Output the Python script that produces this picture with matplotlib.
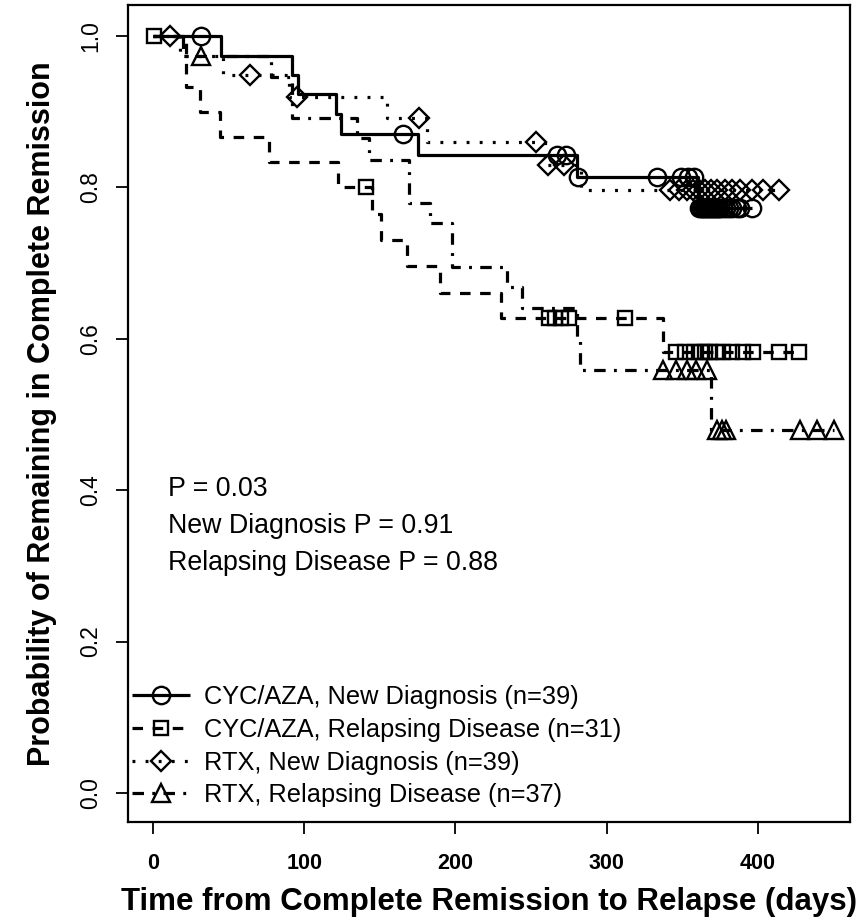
import matplotlib
matplotlib.use('Agg')
import matplotlib.pyplot as plt
import numpy as np
from matplotlib.lines import Line2D

plt.rcParams['font.family'] = ['Liberation Sans', 'DejaVu Sans']

# ---------------- data ----------------
group_labels = [
    "CYC/AZA, New Diagnosis (n=39)",
    "CYC/AZA, Relapsing Disease (n=31)",
    "RTX, New Diagnosis (n=39)",
    "RTX, Relapsing Disease (n=37)",
]

# CYC/AZA, New Diagnosis (solid, circles)
cyc_new_events = [45, 92, 96, 121, 124, 175, 280, 360]
cyc_new_surv = [0.974, 0.949, 0.923, 0.897, 0.871, 0.843, 0.814, 0.773]
cyc_new_censor = [32, 165, 267, 273, 281, 333, 349, 354, 358,
                  361, 362, 363, 364, 365, 366, 367, 368, 369, 370, 371, 372,
                  373, 374, 375, 377, 379, 381, 383, 386, 388, 396]

# CYC/AZA, Relapsing Disease (dashed, squares)
cyc_rel_events = [22, 31, 44, 77, 122, 145, 151, 168, 190, 230, 337]
cyc_rel_surv = [0.933, 0.900, 0.867, 0.833, 0.800, 0.765, 0.731, 0.696,
                0.661, 0.628, 0.583]
cyc_rel_censor = [1, 141, 262, 266, 270, 275, 312, 346, 352, 358, 362, 365,
                  368, 372, 377, 383, 390, 397, 414, 427]

# RTX, New Diagnosis (dotted, diamonds)
rtx_new_events = [18, 46, 90, 155, 181, 259, 283]
rtx_new_surv = [0.974, 0.948, 0.920, 0.892, 0.860, 0.830, 0.797]
rtx_new_censor = [11, 64, 95, 176, 253, 261, 272, 342, 348, 353, 357, 361,
                  365, 369, 373, 378, 383, 388, 396, 403, 414]

# RTX, Relapsing Disease (dot-dash, triangles)
rtx_rel_events = [20, 78, 92, 135, 143, 169, 183, 198, 234, 244, 280, 282, 369]
rtx_rel_surv = [0.973, 0.946, 0.892, 0.865, 0.836, 0.780, 0.753, 0.695,
                0.668, 0.641, 0.600, 0.559, 0.480]
rtx_rel_censor = [32, 337, 346, 353, 359, 366, 373, 376, 379, 428, 439, 450]

x_ticks = [0, 100, 200, 300, 400]
y_ticks = [0.0, 0.2, 0.4, 0.6, 0.8, 1.0]

annotations = ["P = 0.03", "New Diagnosis P = 0.91", "Relapsing Disease P = 0.88"]
annotation_y = [0.392, 0.343, 0.295]

x_label = "Time from Complete Remission to Relapse (days)"
y_label = "Probability of Remaining in Complete Remission"

# ---------------- styles ----------------
LW = 2.3
styles = [
    dict(dashes=(), marker='o', ms=12.5),
    dict(dashes=(3.3, 3.0), marker='s', ms=10.5),
    dict(dashes=(0.9, 3.2), marker='D', ms=10.5),
    dict(dashes=(3.6, 2.6, 0.9, 2.6), marker='^', ms=13.5),
]

groups = [
    (cyc_new_events, cyc_new_surv, cyc_new_censor),
    (cyc_rel_events, cyc_rel_surv, cyc_rel_censor),
    (rtx_new_events, rtx_new_surv, rtx_new_censor),
    (rtx_rel_events, rtx_rel_surv, rtx_rel_censor),
]

W, H = 866, 919
fig = plt.figure(figsize=(W / 100, H / 100), dpi=100)
ax = fig.add_axes([128 / W, 1 - 822 / H, 722 / W, 817 / H])


def surv_at(events, surv, t):
    idx = np.searchsorted(events, t, side='right')
    return 1.0 if idx == 0 else surv[idx - 1]


handles = []
for (ev, sv, cz), st, lab in zip(groups, styles, group_labels):
    tend = max(max(ev), max(cz))
    xs = [0] + list(ev) + [tend]
    ys = [1.0] + list(sv) + [sv[-1]]
    kw = dict(color='black', lw=LW, solid_capstyle='butt', dash_capstyle='butt')
    if st['dashes']:
        kw['dashes'] = st['dashes']
    ax.step(xs, ys, where='post', **kw)
    cy = [surv_at(np.array(ev), sv, c) for c in cz]
    ax.plot(cz, cy, linestyle='none', marker=st['marker'], ms=st['ms'],
            mfc='none', mec='black', mew=1.7)
    h = Line2D([], [], marker=st['marker'], ms=st['ms'], mfc='none',
               mec='black', mew=1.7, **kw)
    handles.append(h)

for txt, yy in zip(annotations, annotation_y):
    ax.text(10, yy, txt, fontsize=19.3, ha='left', va='baseline')

ax.legend(handles, group_labels, loc='lower left',
          bbox_to_anchor=(0.005, 0.018), frameon=False, fontsize=18.3,
          handlelength=2.3, handletextpad=0.55, labelspacing=0.34,
          borderpad=0, borderaxespad=0, numpoints=1)

ax.set_xlim(-16.5, 460.8)
ax.set_ylim(-0.0383, 1.041)
ax.set_xticks(x_ticks)
ax.set_xticklabels([str(t) for t in x_ticks], fontweight='bold', fontsize=15.5)
ax.set_yticks(y_ticks)
ax.set_yticklabels([f"{t:.1f}" for t in y_ticks], fontsize=16.5, rotation=90,
                   va='center')
ax.tick_params(direction='out', length=8.5, width=1.3)
ax.tick_params(axis='x', pad=14)
ax.tick_params(axis='y', pad=10)
for sp in ax.spines.values():
    sp.set_linewidth(1.6)

ax.set_xlabel(x_label, fontsize=22.5, fontweight='bold', labelpad=9)
ax.set_ylabel(y_label, fontsize=22, fontweight='bold', labelpad=16)

fig.savefig('out.png', dpi=100)
